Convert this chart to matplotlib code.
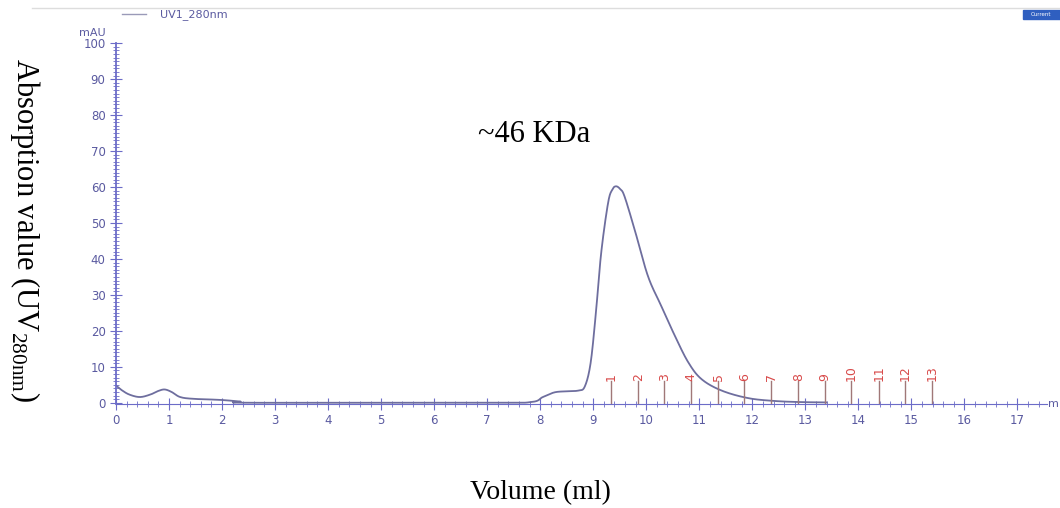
import numpy as np
import matplotlib.pyplot as plt
from matplotlib.ticker import MultipleLocator

# UV 280 nm trace (ml, mAU)
volume = [0.0, 0.1, 0.25, 0.45, 0.65, 0.8, 0.92, 1.05, 1.21, 1.46, 1.97, 2.34, 2.6,
          7.0, 7.83, 8.05, 8.27, 8.5, 8.72, 8.84, 8.95, 9.05, 9.15, 9.28, 9.36, 9.43,
          9.51, 9.59, 9.78, 10.03, 10.28, 10.54, 10.79, 11.04, 11.42, 11.92,
          12.42, 12.9, 13.4]
mau = [4.8, 3.6, 2.3, 1.6, 2.3, 3.3, 3.7, 3.0, 1.6, 1.1, 0.8, 0.35, 0.0,
       0.0, 0.2, 1.6, 2.9, 3.2, 3.4, 4.5, 11.0, 25.0, 41.7, 55.6, 59.3, 60.2,
       59.4, 57.4, 48.2, 35.3, 27.0, 18.6, 11.3, 6.6, 3.4, 1.3,
       0.5, 0.2, 0.1]

# fraction collector marks
frac_pos = [9.34, 9.85, 10.34, 10.85, 11.36, 11.85, 12.36, 12.87, 13.37,
            13.87, 14.39, 14.88, 15.39]
frac_labels = [str(i) for i in range(1, 14)]

axis_col = "#6c6cc8"
label_col = "#5a5aa0"
curve_col = "#6e6e9e"
frac_col = "#d84a4a"


def smooth_curve(x, y, n=20):
    # Catmull-Rom pass through the read points
    x = np.asarray(x, float)
    y = np.asarray(y, float)
    px = np.concatenate([[x[0]], x, [x[-1]]])
    py = np.concatenate([[y[0]], y, [y[-1]]])
    ox, oy = [], []
    t = np.linspace(0, 1, n, endpoint=False)
    for i in range(1, len(px) - 2):
        for arr, out in ((px, ox), (py, oy)):
            p0, p1, p2, p3 = arr[i - 1], arr[i], arr[i + 1], arr[i + 2]
            out.extend(0.5 * (2 * p1 + (-p0 + p2) * t
                              + (2 * p0 - 5 * p1 + 4 * p2 - p3) * t ** 2
                              + (-p0 + 3 * p1 - 3 * p2 + p3) * t ** 3))
    ox.append(x[-1])
    oy.append(y[-1])
    return np.array(ox), np.clip(np.array(oy), 0, None)


plt.rcParams["mathtext.fontset"] = "custom"
plt.rcParams["mathtext.rm"] = "Liberation Serif"

fig = plt.figure(figsize=(10.6, 5.08), dpi=100)
ax = fig.add_axes([0.1094, 0.205, 0.878, 0.71])

sx, sy = smooth_curve(volume, mau)
ax.plot(sx, sy, color=curve_col, lw=1.3)

for pos, lab in zip(frac_pos, frac_labels):
    ax.plot([pos, pos], [0, 6], color="#a07878", lw=1.0)
    ax.text(pos, 6.0, lab, rotation=90, color=frac_col, fontsize=9,
            ha="center", va="bottom")

ax.set_xlim(0, 17.55)
ax.set_ylim(-0.3, 100)
for s in ["top", "right"]:
    ax.spines[s].set_visible(False)
ax.spines["left"].set_color(axis_col)
ax.spines["bottom"].set_color(axis_col)
ax.spines["left"].set_linewidth(1.3)

ax.xaxis.set_major_locator(MultipleLocator(1))
ax.xaxis.set_minor_locator(MultipleLocator(0.2))
ax.yaxis.set_major_locator(MultipleLocator(10))
ax.yaxis.set_minor_locator(MultipleLocator(1))
ax.tick_params(which="major", direction="inout", length=8, color=axis_col,
               labelcolor=label_col, labelsize=8.5)
ax.tick_params(which="minor", direction="inout", length=4, color=axis_col)

fig.text(0.989, 0.205, "m", color=label_col, fontsize=8, va="center")
ax.text(-0.7, 101.5, "mAU", color=label_col, fontsize=8, va="bottom")

# legend strip at top
fig.add_artist(plt.Line2D([0.03, 1.0], [0.984, 0.984], color="#dddddd", lw=1))
fig.add_artist(plt.Line2D([0.115, 0.138], [0.972, 0.972], color="#9a9ab8", lw=1))
fig.text(0.151, 0.972, "UV1_280nm", color=label_col, fontsize=8, va="center")
fig.patches.append(plt.Rectangle((0.965, 0.962), 0.035, 0.018, color="#2f5fc0",
                                 transform=fig.transFigure, figure=fig))
fig.text(0.982, 0.971, "Current", color="white", fontsize=4, ha="center", va="center")

ax.text(7.88, 74.5, "~46 KDa", fontfamily="Liberation Serif", fontsize=22,
        ha="center", va="center")

fig.text(0.51, 0.03, "Volume (ml)", fontfamily="Liberation Serif", fontsize=20,
         ha="center", va="center")
fig.text(0.024, 0.547, r"Absorption value (UV$_{\mathrm{280nm}}$)",
         fontfamily="Liberation Serif", fontsize=22, rotation=270,
         ha="center", va="center")

fig.savefig("out.png", dpi=100)
